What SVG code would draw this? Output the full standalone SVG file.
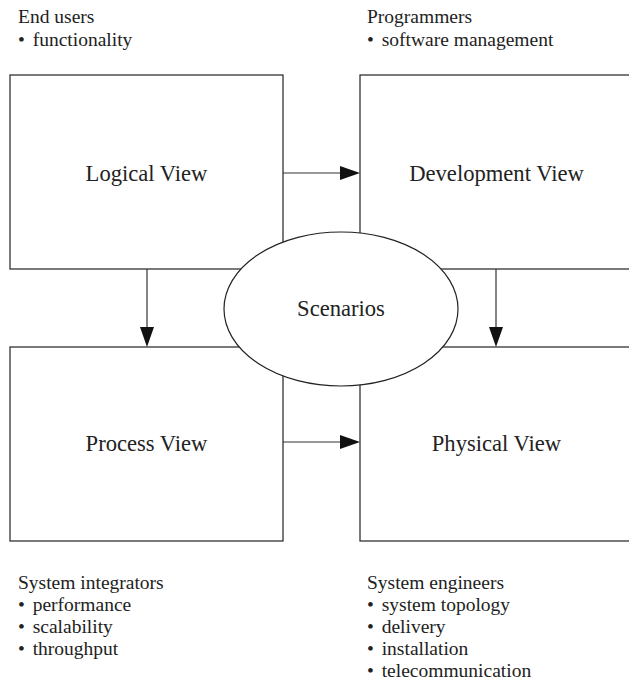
<svg xmlns="http://www.w3.org/2000/svg" width="629" height="686" viewBox="0 0 629 686">
<style>
.box{fill:#fff;stroke:#222;stroke-width:1.2}
.lbl{font-family:"Liberation Serif","Times New Roman",serif;font-size:22.6px;fill:#222;text-anchor:middle}
.cap{font-family:"Liberation Serif","Times New Roman",serif;font-size:19.5px;fill:#222}
.conn line{stroke:#333;stroke-width:1.2}
.conn polygon{fill:#111}
</style>
<rect width="629" height="686" fill="#fff"/>
<g id="captions">
<text class="cap" x="18" y="23">End users</text>
<text class="cap" x="18" y="45.5">• <tspan dx="3">functionality</tspan></text>
<text class="cap" x="367" y="23">Programmers</text>
<text class="cap" x="367" y="45.5">• <tspan dx="3">software management</tspan></text>
<text class="cap" x="18" y="589">System integrators</text>
<text class="cap" x="18" y="611">• <tspan dx="3">performance</tspan></text>
<text class="cap" x="18" y="633">• <tspan dx="3">scalability</tspan></text>
<text class="cap" x="18" y="655">• <tspan dx="3">throughput</tspan></text>
<text class="cap" x="367" y="589">System engineers</text>
<text class="cap" x="367" y="611">• <tspan dx="3">system topology</tspan></text>
<text class="cap" x="367" y="633">• <tspan dx="3">delivery</tspan></text>
<text class="cap" x="367" y="655">• <tspan dx="3">installation</tspan></text>
<text class="cap" x="367" y="677">• <tspan dx="3">telecommunication</tspan></text>
</g>
<g id="logical"><rect class="box" x="10" y="75" width="273" height="194"/><text class="lbl" x="146.5" y="181">Logical View</text></g>
<g id="development"><rect class="box" x="360" y="75" width="273" height="194"/><text class="lbl" x="496.5" y="181">Development View</text></g>
<g id="process"><rect class="box" x="10" y="347" width="273" height="194"/><text class="lbl" x="146.5" y="451">Process View</text></g>
<g id="physical"><rect class="box" x="360" y="347" width="273" height="194"/><text class="lbl" x="496.5" y="451">Physical View</text></g>
<g id="connectors" class="conn">
<line x1="283" y1="173" x2="342" y2="173"/><polygon points="340,166 360,173 340,180"/>
<line x1="283" y1="442" x2="342" y2="442"/><polygon points="340,435 360,442 340,449"/>
<line x1="147" y1="269" x2="147" y2="329"/><polygon points="140,327 147,347 154,327"/>
<line x1="496" y1="269" x2="496" y2="329"/><polygon points="489,327 496,347 503,327"/>
</g>
<g id="scenarios"><ellipse class="box" cx="341" cy="309" rx="117" ry="77"/><text class="lbl" x="341" y="316">Scenarios</text></g>
</svg>
